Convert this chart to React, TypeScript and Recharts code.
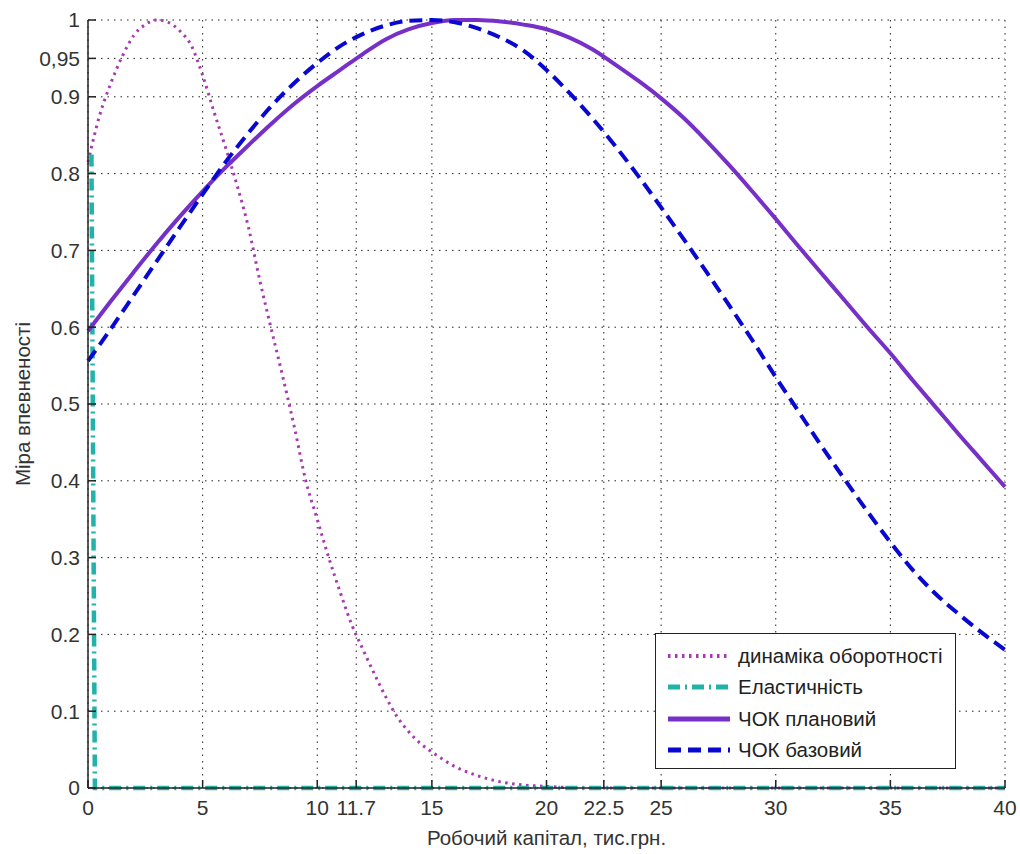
import { LineChart, Line, XAxis, YAxis, CartesianGrid, Legend } from "recharts";

// x grid shared by the two "ЧОК" curves
const capitalGrid = [
  0, 1, 2, 3, 4, 5, 6, 7, 8, 9, 10, 11, 12, 13, 14, 15, 16, 17, 18, 19, 20,
  21, 22, 23, 24, 25, 26, 27, 28, 29, 30, 31, 32, 33, 34, 35, 36, 37, 38, 39, 40,
];
const plannedValues = [
  0.595, 0.634, 0.672, 0.709, 0.744, 0.777, 0.808, 0.837, 0.865, 0.891, 0.914,
  0.935, 0.956, 0.975, 0.988, 0.996, 1.0, 1.0, 0.998, 0.994, 0.988, 0.977,
  0.962, 0.942, 0.921, 0.898, 0.872, 0.842, 0.81, 0.776, 0.741, 0.705, 0.67,
  0.635, 0.6, 0.566, 0.53, 0.495, 0.46, 0.426, 0.392,
];
const baseValues = [
  0.556, 0.598, 0.642, 0.686, 0.73, 0.773, 0.815, 0.853, 0.888, 0.918, 0.944,
  0.966, 0.982, 0.993, 0.999, 1.0, 0.997, 0.989, 0.977, 0.96, 0.935, 0.905,
  0.872, 0.836, 0.797, 0.756, 0.714, 0.671, 0.627, 0.582, 0.535, 0.49, 0.445,
  0.402, 0.36, 0.32, 0.283, 0.252, 0.226, 0.202, 0.18,
];

// динаміка оборотності
const turnoverX = [
  0, 0.5, 1, 1.5, 2, 2.5, 3, 3.5, 4, 4.5, 5, 5.5, 6, 6.5, 7, 7.5, 8, 8.5, 9,
  9.5, 10, 10.5, 11, 11.5, 12, 12.5, 13, 13.5, 14, 14.5, 15, 16, 17, 18, 19,
  20, 22, 25, 30, 35, 40,
];
const turnoverValues = [
  0.815, 0.875, 0.918, 0.953, 0.98, 0.994, 1.0, 0.997, 0.986, 0.967, 0.928,
  0.88, 0.834, 0.785, 0.73, 0.66, 0.597, 0.535, 0.47, 0.4, 0.35, 0.3, 0.255,
  0.213, 0.18, 0.148, 0.118, 0.092, 0.073, 0.058, 0.047, 0.028, 0.016, 0.008,
  0.004, 0.002, 0, 0, 0, 0, 0,
];

// еластичність
const elasticityX = [0.15, 0.3, 40];
const elasticityValues = [0.825, 0, 0];

const xTicks = [0, 5, 10, 11.7, 15, 20, 22.5, 25, 30, 35, 40];
const yTicks = [0, 0.1, 0.2, 0.3, 0.4, 0.5, 0.6, 0.7, 0.8, 0.9, 0.95, 1];

const seriesNames = ["динаміка оборотності", "Еластичність", "ЧОК плановий", "ЧОК базовий"];

const zip = (xs: number[], ys: number[]) => xs.map((x, i) => ({ x, y: ys[i] }));

const turnoverData = zip(turnoverX, turnoverValues);
const elasticityData = zip(elasticityX, elasticityValues);
const plannedData = zip(capitalGrid, plannedValues);
const baseData = zip(capitalGrid, baseValues);

const FONT = "'Liberation Sans', Arial, sans-serif";

const styles = [
  { color: "#a838b0", width: 3, dash: "2.5 4.5" },
  { color: "#22b2aa", width: 4.5, dash: "12 5 2 5" },
  { color: "#7630c8", width: 4, dash: undefined },
  { color: "#0808d0", width: 4, dash: "13 7" },
];

function LegendBox() {
  return (
    <div
      style={{
        background: "#fff",
        border: "1.5px solid #222",
        fontFamily: FONT,
        fontSize: 20.5,
        color: "#222",
        padding: "6px 0 4px 10px",
        boxSizing: "border-box",
        width: 301,
        height: 136,
        whiteSpace: "nowrap",
      }}
    >
      {seriesNames.map((name, i) => (
        <div key={name} style={{ display: "flex", alignItems: "center", height: 31.5 }}>
          <svg width={66} height={12} style={{ marginRight: 6 }}>
            <line
              x1={2}
              y1={6}
              x2={64}
              y2={6}
              stroke={styles[i].color}
              strokeWidth={Math.min(styles[i].width + 1, 5)}
              strokeDasharray={styles[i].dash}
            />
          </svg>
          <span>{name}</span>
        </div>
      ))}
    </div>
  );
}

export default function App() {
  return (
    <div style={{ position: "absolute", left: 0, top: 0, width: 1020, height: 854, background: "#fff" }}>
      <LineChart width={1020} height={854} margin={{ top: 20, right: 15, left: 0, bottom: 0 }}>
        <CartesianGrid stroke="#222" strokeDasharray="1.5 5" />
        <XAxis
          dataKey="x"
          type="number"
          domain={[0, 40]}
          ticks={xTicks}
          interval={0}
          height={66}
          tickSize={-8}
          tickMargin={20}
          stroke="#222"
          strokeWidth={1.5}
          tick={{ fill: "#333", fontSize: 21, fontFamily: FONT }}
          allowDuplicatedCategory={false}
          label={{
            content: ({ viewBox }: any) => (
              <text
                x={viewBox.x + viewBox.width / 2}
                y={viewBox.y + 57}
                textAnchor="middle"
                fill="#333"
                fontSize={20.5}
                fontFamily={FONT}
              >
                Робочий капітал, тис.грн.
              </text>
            ),
          }}
        />
        <XAxis
          xAxisId="top"
          orientation="top"
          dataKey="x"
          type="number"
          domain={[0, 40]}
          ticks={xTicks}
          interval={0}
          height={0}
          tickSize={-8}
          stroke="#222"
          strokeWidth={1.5}
          tick={() => <g />}
        />
        <YAxis
          type="number"
          domain={[0, 1]}
          ticks={yTicks}
          interval={0}
          width={88}
          tickSize={-8}
          tickMargin={16}
          stroke="#222"
          strokeWidth={1.5}
          tick={{ fill: "#333", fontSize: 21, fontFamily: FONT }}
          tickFormatter={(v: number) => (v === 0.95 ? "0,95" : String(v))}
          label={{
            content: ({ viewBox }: any) => {
              const cx = 22;
              const cy = viewBox.y + viewBox.height / 2;
              return (
                <text
                  x={cx}
                  y={cy}
                  transform={`rotate(-90 ${cx} ${cy})`}
                  textAnchor="middle"
                  dominantBaseline="central"
                  fill="#333"
                  fontSize={20.5}
                  fontFamily={FONT}
                >
                  Міра впевненості
                </text>
              );
            },
          }}
        />
        <YAxis
          yAxisId="right"
          orientation="right"
          type="number"
          domain={[0, 1]}
          ticks={yTicks}
          interval={0}
          width={0}
          tickSize={-8}
          stroke="#222"
          strokeWidth={1.5}
          tick={() => <g />}
        />
        <Line
          data={turnoverData}
          dataKey="y"
          name={seriesNames[0]}
          type="monotone"
          stroke={styles[0].color}
          strokeWidth={styles[0].width}
          strokeDasharray={styles[0].dash}
          dot={false}
          isAnimationActive={false}
        />
        <Line
          data={elasticityData}
          dataKey="y"
          name={seriesNames[1]}
          type="linear"
          stroke={styles[1].color}
          strokeWidth={styles[1].width}
          strokeDasharray={styles[1].dash}
          dot={false}
          isAnimationActive={false}
        />
        <Line
          data={plannedData}
          dataKey="y"
          name={seriesNames[2]}
          type="monotone"
          stroke={styles[2].color}
          strokeWidth={styles[2].width}
          dot={false}
          isAnimationActive={false}
        />
        <Line
          data={baseData}
          dataKey="y"
          name={seriesNames[3]}
          type="monotone"
          stroke={styles[3].color}
          strokeWidth={styles[3].width}
          strokeDasharray={styles[3].dash}
          dot={false}
          isAnimationActive={false}
        />
        <Legend
          layout="vertical"
          align="center"
          verticalAlign="middle"
          wrapperStyle={{ position: "absolute", left: 655, top: 633, width: 301, height: 136 }}
          content={() => <LegendBox />}
        />
      </LineChart>
    </div>
  );
}
